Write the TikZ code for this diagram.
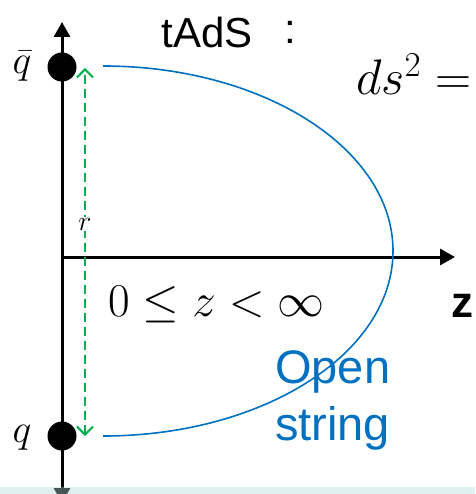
\RequirePackage{fix-cm}
\documentclass[tikz,border=0pt]{standalone}
\usepackage{amsmath,amssymb}
\usepackage{fontspec}
\usepackage{tikz}
\usetikzlibrary{arrows.meta,positioning,calc}
\newfontfamily\slidefont{Liberation Sans}
\definecolor{stringblue}{HTML}{0070C0}
\definecolor{sepgreen}{HTML}{00B050}
\definecolor{bandcol}{HTML}{B1D9D9}

\begin{document}
\begin{tikzpicture}[
    x=1pt, y=-1pt,
    axis/.style={line width=3pt, -{Triangle[length=15pt, width=16pt]}},
    quark/.style={circle, fill=black, inner sep=0pt, minimum size=29pt},
    qlabel/.style={font=\fontsize{40}{40}\selectfont, inner sep=0pt},
    sep/.style={sepgreen, line width=2pt, dash pattern=on 9pt off 5pt, {Straight Barb[length=8pt, width=16pt, line width=2pt]}-{Straight Barb[length=8pt, width=16pt, line width=2pt]}},
    curve/.style={stringblue, line width=1.6pt},
    slide/.style={font=\slidefont\fontsize{42}{42}\selectfont, inner sep=0pt}
]
    \useasboundingbox (0,0) rectangle (475,494);
    \clip (0,0) rectangle (475,494);

    % axes
    \coordinate (O) at (62,257);
    \coordinate (rtop) at (62,22);
    \coordinate (rbot) at (62,503);
    \coordinate (zend) at (455,257);
    \draw [axis] (O) -- (zend);
    \draw [line width=3pt, {Triangle[length=15pt, width=16pt]}-{Triangle[length=15pt, width=16pt]}] (rbot) -- (rtop);

    % quark and antiquark
    \node [quark] (qbar) at (62,67) {};
    \node [quark] (q) at (62,436) {};
    \node [qlabel] (lqbar) at (22,66) {$\bar{q}$};
    \node [qlabel] (lq) at (22,438) {$q$};

    % separation r
    \coordinate (sa) at (85,68);
    \coordinate (sb) at (85,436);
    \draw [sep] (sb) -- (sa);
    \node [fill=white, inner sep=1pt, font=\fontsize{28}{28}\selectfont] (r) at (85,224) {$r$};

    % open string
    \draw [curve] (103,66) arc [start angle=-90, end angle=90, x radius=290, y radius=185];

    % texts
    \node [slide] (title) at (207,32) {tAdS};
    \node [slide] (colon) at (290,32) {:};
    \node [anchor=base west, inner sep=0pt, font=\fontsize{50}{50}\selectfont] (metric) at (356,95) {$ds^2 =$};
    \node [anchor=base west, inner sep=0pt, font=\fontsize{47}{47}\selectfont] (range) at (108,316) {$0 \le z < \infty$};
    \node [font=\slidefont\bfseries\fontsize{44}{44}\selectfont, inner sep=0pt] (zlab) at (462,306) {z};
    \node [stringblue, align=left, font=\slidefont\fontsize{47}{57}\selectfont, inner sep=0pt, anchor=base west] (open) at (275,440) {Open\\string};

    % bottom band
    \fill [bandcol, opacity=0.4] (0,487) rectangle (475,494);
\end{tikzpicture}
\end{document}
